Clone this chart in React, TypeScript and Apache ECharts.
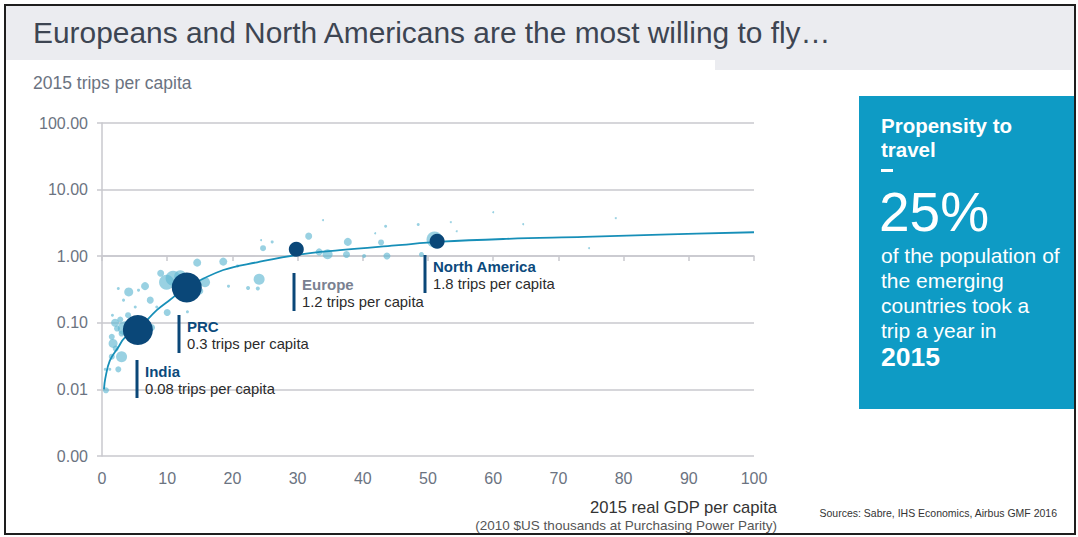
import React, { useEffect, useRef } from "react";
import * as echarts from "echarts";

// ---- data ----
const xMin = 0;
const xMax = 100;
const xInterval = 10;
const yMin = 0.001;
const yMax = 100;

// fitted trend curve (GDP per capita, trips per capita)
const curveGdp = [0.3, 0.5, 1.2, 2.5, 3.5, 5.5, 8.4, 10.4, 13, 18.6, 23.8, 30, 36.5, 45, 52, 62, 74, 87, 100];
const curveTrips = [0.01, 0.0145, 0.027, 0.043, 0.06, 0.08, 0.155, 0.22, 0.34, 0.62, 0.81, 1.05, 1.23, 1.45, 1.65, 1.82, 1.95, 2.12, 2.29];

// individual countries (light bubbles)
const lightGdp = [43.5, 48.5, 42.8, 37.7, 31.7, 26.1, 24.4, 24.7, 20.8, 18.6, 14.6, 9.0, 6.6, 4.1, 24.1, 22.4, 23.9, 33.3, 34.6, 37.5, 40.2, 43.7, 49.0, 51.0, 10.9, 9.9, 15.8, 2.5, 7.4, 3.3, 5.1, 8.4, 10.0, 13.1, 5.6, 1.6, 2.8, 4.0, 2.3, 1.5, 1.7, 3.0, 2.1, 3.0, 1.5, 7.6, 1.2, 2.5, 0.5, 0.6, 6.1, 3.5, 19.4, 33.9, 41.9, 60.0, 53.5, 54.4, 64.6, 78.8, 74.7, 12.0, 15.0, 11.5, 4.6, 2.0];
const lightTrips = [2.82, 2.99, 1.61, 1.64, 2.0, 1.64, 1.74, 1.32, 0.715, 0.83, 0.8, 0.556, 0.355, 0.291, 0.452, 0.334, 0.327, 1.16, 1.07, 1.06, 1.01, 1.01, 1.06, 1.78, 0.468, 0.407, 0.407, 0.327, 0.219, 0.219, 0.173, 0.173, 0.143, 0.146, 0.309, 0.13, 0.112, 0.13, 0.082, 0.0616, 0.049, 0.069, 0.041, 0.031, 0.031, 0.085, 0.02, 0.02, 0.02, 0.0097, 0.055, 0.083, 0.355, 3.47, 2.21, 4.57, 3.24, 2.37, 3.02, 3.72, 1.32, 0.5, 0.3, 0.28, 0.065, 0.1];
const lightWeight = [3, 3, 6, 8, 7, 3, 2, 6, 3, 8, 8, 7, 8, 9, 11, 4, 4, 7, 10, 7, 4, 7, 5, 16, 15, 15, 10, 3, 7, 3, 3, 3, 7, 3, 3, 3, 6, 6, 6, 6, 9, 6, 6, 11, 6, 7, 3, 6, 3, 6, 7, 14, 3, 2, 2, 2, 2, 2, 2, 2, 2, 12, 7, 6, 10, 8];

// highlighted regions
const hlNames = ["India", "PRC", "Europe", "North America"];
const hlGdp = [5.5, 13.0, 29.8, 51.4];
const hlTrips = [0.078, 0.34, 1.27, 1.68];
const hlWeight = [30, 30, 15, 15];
const hlSubtitles = ["0.08 trips per capita", "0.3 trips per capita", "1.2 trips per capita", "1.8 trips per capita"];

const FONT = "'Liberation Sans', Arial, Helvetica, sans-serif";
const NAVY = "#0a4778";
const GRID = "#c8c8ce";
const AXISTXT = "#6b7381";

export default function App() {
  const ref = useRef<HTMLDivElement>(null);

  useEffect(() => {
    if (!ref.current) return;
    const chart = echarts.init(ref.current, null, { renderer: "svg" });

    const lightData = lightGdp.map((g, i) => [g, lightTrips[i], lightWeight[i]]);
    const curveData = curveGdp.map((g, i) => [g, curveTrips[i]]);
    const hlData = hlGdp.map((g, i) => ({ name: hlNames[i], value: [g, hlTrips[i], hlWeight[i]] }));

    // annotation positions (label bars)
    const ann = [
      { bx: 137, by: 360, name: hlNames[0], sub: hlSubtitles[0], color: "#0b4a7c" },
      { bx: 179, by: 315, name: hlNames[1], sub: hlSubtitles[1], color: "#0b4a7c" },
      { bx: 294, by: 273, name: hlNames[2], sub: hlSubtitles[2], color: "#7a8191" },
      { bx: 425, by: 255, name: hlNames[3], sub: hlSubtitles[3], color: "#0b4a7c" },
    ];
    const annGraphics: any[] = [];
    ann.forEach((a) => {
      annGraphics.push({ type: "rect", shape: { x: a.bx - 1.5, y: a.by, width: 3, height: 38 }, style: { fill: NAVY }, z: 10 });
      annGraphics.push({ type: "text", x: a.bx + 8, y: a.by + 11, style: { text: a.name, fill: a.color, font: `bold 15px ${FONT}`, textVerticalAlign: "middle" }, z: 10 });
      annGraphics.push({ type: "text", x: a.bx + 8, y: a.by + 29, style: { text: a.sub, fill: "#2b2b2b", font: `14.8px ${FONT}`, textVerticalAlign: "middle" }, z: 10 });
    });

    const option: any = {
      animation: false,
      backgroundColor: "#ffffff",
      grid: { left: 102, right: 324, top: 123, bottom: 81, containLabel: false },
      xAxis: [
        {
          type: "value",
          min: xMin,
          max: xMax,
          interval: xInterval,
          position: "bottom",
          axisLine: { show: false },
          axisTick: { show: false },
          splitLine: { show: false },
          axisLabel: { color: AXISTXT, fontSize: 16, fontFamily: FONT, margin: 14 },
        },
        {
          type: "value",
          min: xMin,
          max: xMax,
          interval: xInterval,
          position: "bottom",
          offset: -200,
          axisLine: { show: true, onZero: false, lineStyle: { color: GRID, width: 1.5 } },
          axisTick: { show: true, length: 5, lineStyle: { color: GRID, width: 1.5 } },
          splitLine: { show: false },
          axisLabel: { show: false },
        },
      ],
      yAxis: {
        type: "log",
        logBase: 10,
        min: yMin,
        max: yMax,
        axisLine: { show: true, lineStyle: { color: GRID, width: 1.5 } },
        axisTick: { show: true, length: 5, lineStyle: { color: GRID, width: 1.5 } },
        splitLine: { show: true, lineStyle: { color: GRID, width: 1.5 } },
        minorTick: { show: false },
        axisLabel: {
          color: AXISTXT,
          fontSize: 16,
          fontFamily: FONT,
          margin: 14,
          formatter: (v: number) => v.toFixed(2),
        },
      },
      series: [
        {
          type: "scatter",
          xAxisIndex: 0,
          data: lightData,
          symbolSize: (v: number[]) => v[2],
          itemStyle: { color: "#62b9d3", opacity: 0.65 },
          z: 2,
        },
        {
          type: "line",
          xAxisIndex: 0,
          data: curveData,
          smooth: 0.4,
          showSymbol: false,
          symbol: "none",
          lineStyle: { color: "#178fb8", width: 1.8 },
          z: 3,
        },
        {
          type: "scatter",
          xAxisIndex: 0,
          data: hlData,
          symbolSize: (v: number[]) => v[2],
          itemStyle: { color: NAVY, opacity: 1 },
          z: 4,
        },
      ],
      graphic: [
        // frame and header
        { type: "rect", shape: { x: 6, y: 6, width: 1069, height: 54 }, style: { fill: "#ebecf0" }, z: 0 },
        { type: "rect", shape: { x: 715, y: 59, width: 360, height: 11 }, style: { fill: "#ebecf0" }, z: 0 },
        { type: "rect", shape: { x: 5, y: 5, width: 1070, height: 529 }, style: { fill: "none", stroke: "#1e1e1e", lineWidth: 2 }, z: 20 },
        {
          type: "text", x: 33, y: 32,
          style: { text: "Europeans and North Americans are the most willing to fly…", fill: "#3d4552", font: `29.9px ${FONT}`, textVerticalAlign: "middle" },
        },
        {
          type: "text", x: 33, y: 83,
          style: { text: "2015 trips per capita", fill: AXISTXT, font: `17.5px ${FONT}`, textVerticalAlign: "middle" },
        },
        // x axis name
        {
          type: "text", x: 777, y: 507,
          style: { text: "2015 real GDP per capita", fill: "#333333", font: `16.6px ${FONT}`, textAlign: "right", textVerticalAlign: "middle" },
        },
        {
          type: "text", x: 777, y: 525,
          style: { text: "(2010 $US thousands at Purchasing Power Parity)", fill: "#555555", font: `13.5px ${FONT}`, textAlign: "right", textVerticalAlign: "middle" },
        },
        {
          type: "text", x: 1057, y: 513,
          style: { text: "Sources: Sabre, IHS Economics, Airbus GMF 2016", fill: "#333333", font: `10.5px ${FONT}`, textAlign: "right", textVerticalAlign: "middle" },
        },
        // side box
        { type: "rect", shape: { x: 859, y: 96, width: 216, height: 313 }, style: { fill: "#0e9bc5" }, z: 1 },
        { type: "text", x: 881, y: 125, style: { text: "Propensity to", fill: "#ffffff", font: `bold 20.5px ${FONT}`, textVerticalAlign: "middle" }, z: 2 },
        { type: "text", x: 881, y: 149, style: { text: "travel", fill: "#ffffff", font: `bold 20.5px ${FONT}`, textVerticalAlign: "middle" }, z: 2 },
        { type: "rect", shape: { x: 881, y: 169, width: 12, height: 3 }, style: { fill: "#ffffff" }, z: 2 },
        { type: "text", x: 879, y: 212, style: { text: "25%", fill: "#ffffff", font: `55px ${FONT}`, textVerticalAlign: "middle" }, z: 2 },
        { type: "text", x: 881, y: 255, style: { text: "of the population of", fill: "#ffffff", font: `21px ${FONT}`, textVerticalAlign: "middle" }, z: 2 },
        { type: "text", x: 881, y: 280, style: { text: "the emerging", fill: "#ffffff", font: `21px ${FONT}`, textVerticalAlign: "middle" }, z: 2 },
        { type: "text", x: 881, y: 305, style: { text: "countries took a", fill: "#ffffff", font: `21px ${FONT}`, textVerticalAlign: "middle" }, z: 2 },
        { type: "text", x: 881, y: 330, style: { text: "trip a year in", fill: "#ffffff", font: `21px ${FONT}`, textVerticalAlign: "middle" }, z: 2 },
        { type: "text", x: 881, y: 357, style: { text: "2015", fill: "#ffffff", font: `bold 26.5px ${FONT}`, textVerticalAlign: "middle" }, z: 2 },
        ...annGraphics,
      ],
    };

    chart.setOption(option);
    return () => chart.dispose();
  }, []);

  return (
    <div
      ref={ref}
      style={{ position: "fixed", left: 0, top: 0, width: 1078, height: 537, background: "#fff" }}
    />
  );
}
